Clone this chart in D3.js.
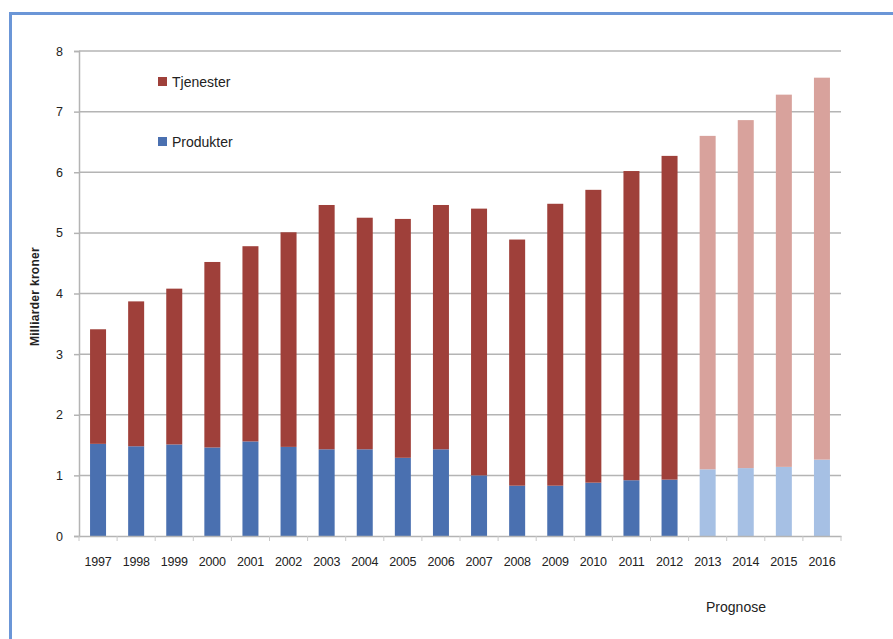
<!DOCTYPE html>
<html>
<head>
<meta charset="utf-8">
<script src="https://cdn.jsdelivr.net/npm/d3@7"></script>
<style>
  html, body { margin: 0; padding: 0; background: #fff; }
  svg { display: block; }
  text { font-family: "Liberation Sans", Arial, sans-serif; fill: #222; }
</style>
</head>
<body>
<svg id="chart" width="893" height="639"></svg>
<script>
// Eksport / omsetning, milliarder kroner
const years = [1997, 1998, 1999, 2000, 2001, 2002, 2003, 2004, 2005, 2006,
               2007, 2008, 2009, 2010, 2011, 2012, 2013, 2014, 2015, 2016];
const produkter = [1.52, 1.48, 1.51, 1.46, 1.56, 1.47, 1.43, 1.43, 1.29, 1.43,
                   1.00, 0.83, 0.83, 0.88, 0.92, 0.93, 1.10, 1.12, 1.14, 1.26];
const tjenester = [1.89, 2.39, 2.57, 3.06, 3.22, 3.54, 4.03, 3.82, 3.94, 4.03,
                   4.40, 4.06, 4.65, 4.83, 5.10, 5.34, 5.50, 5.74, 6.14, 6.30];
const yTicks = [0, 1, 2, 3, 4, 5, 6, 7, 8];
const seriesNames = ["Tjenester", "Produkter"];
const forecastFrom = 2013;   // prognose fra og med dette året

const colors = {
  Produkter: { actual: "#4a70b0", forecast: "#a6c0e4" },
  Tjenester: { actual: "#9f403a", forecast: "#d8a29c" }
};

const svg = d3.select("#chart");

// ramme rundt figuren
svg.append("rect")
  .attr("x", 10.5).attr("y", 13.5)
  .attr("width", 900).attr("height", 660)
  .attr("fill", "none")
  .attr("stroke", "#6b96d7")
  .attr("stroke-width", 3);

const plot = { left: 79, right: 841, top: 51, bottom: 536 };

const x = d3.scaleBand()
  .domain(years)
  .range([plot.left, plot.right])
  .paddingInner(0.58)
  .paddingOuter(0.29);

const y = d3.scaleLinear()
  .domain([0, 8])
  .range([plot.bottom, plot.top]);

// rutenett
svg.append("g")
  .selectAll("line")
  .data(yTicks.filter(t => t > 0))
  .join("line")
  .attr("x1", plot.left).attr("x2", plot.right)
  .attr("y1", d => y(d)).attr("y2", d => y(d))
  .attr("stroke", "#b4b4b4")
  .attr("stroke-width", 1.5);

// y-akse
const yAxis = svg.append("g")
  .attr("transform", `translate(${plot.left},0)`)
  .call(d3.axisLeft(y).tickValues(yTicks).tickSize(5).tickPadding(11).tickFormat(d3.format("d")));
yAxis.select(".domain").attr("stroke", "#b4b4b4").attr("stroke-width", 1.5);
yAxis.selectAll(".tick line").attr("stroke", "#b4b4b4").attr("stroke-width", 1.5);
yAxis.selectAll(".tick text")
  .attr("font-size", 12.5)
  .attr("font-family", "Liberation Sans, Arial, sans-serif")
  .attr("fill", "#222");

// stablede søyler
const table = years.map((yr, i) => ({ year: yr, Produkter: produkter[i], Tjenester: tjenester[i] }));
const stack = d3.stack().keys(["Produkter", "Tjenester"]);
const layers = stack(table);

svg.append("g")
  .selectAll("g")
  .data(layers)
  .join("g")
  .selectAll("rect")
  .data(L => L.map(d => ({ key: L.key, d })))
  .join("rect")
  .attr("x", o => x(o.d.data.year))
  .attr("width", x.bandwidth())
  .attr("y", o => y(o.d[1]))
  .attr("height", o => y(o.d[0]) - y(o.d[1]))
  .attr("fill", o => o.d.data.year >= forecastFrom ? colors[o.key].forecast : colors[o.key].actual);

// x-akse
const xAxis = svg.append("g")
  .attr("transform", `translate(0,${plot.bottom})`)
  .call(d3.axisBottom(x).tickSize(0).tickPadding(21));
xAxis.select(".domain").attr("stroke", "#b4b4b4").attr("stroke-width", 1.5);
xAxis.selectAll(".tick text")
  .attr("font-size", 12.5)
  .attr("font-family", "Liberation Sans, Arial, sans-serif")
  .attr("fill", "#222")
  .attr("letter-spacing", "-0.2px");

// små merker mellom kategoriene
const step = x.step();
svg.append("g")
  .selectAll("line")
  .data(d3.range(years.length + 1))
  .join("line")
  .attr("x1", i => plot.left + i * step).attr("x2", i => plot.left + i * step)
  .attr("y1", plot.bottom).attr("y2", plot.bottom + 5)
  .attr("stroke", "#c8c8c8")
  .attr("stroke-width", 1);

// aksetittel
svg.append("text")
  .attr("transform", `translate(39,${(plot.top + plot.bottom) / 2 + 3}) rotate(-90)`)
  .attr("text-anchor", "middle")
  .attr("font-size", 12)
  .attr("font-weight", "bold")
  .attr("letter-spacing", "0.3px")
  .text("Milliarder kroner");

// forklaring
const legend = svg.append("g");
seriesNames.forEach((name, i) => {
  const gy = 77 + i * 60;
  legend.append("rect")
    .attr("x", 158).attr("y", gy)
    .attr("width", 9).attr("height", 9)
    .attr("fill", colors[name].actual);
  legend.append("text")
    .attr("x", 172).attr("y", gy + 10)
    .attr("font-size", 14)
    .text(name);
});

// prognose-merknad
svg.append("text")
  .attr("x", 736).attr("y", 612)
  .attr("text-anchor", "middle")
  .attr("font-size", 14)
  .text("Prognose");
</script>
</body>
</html>
